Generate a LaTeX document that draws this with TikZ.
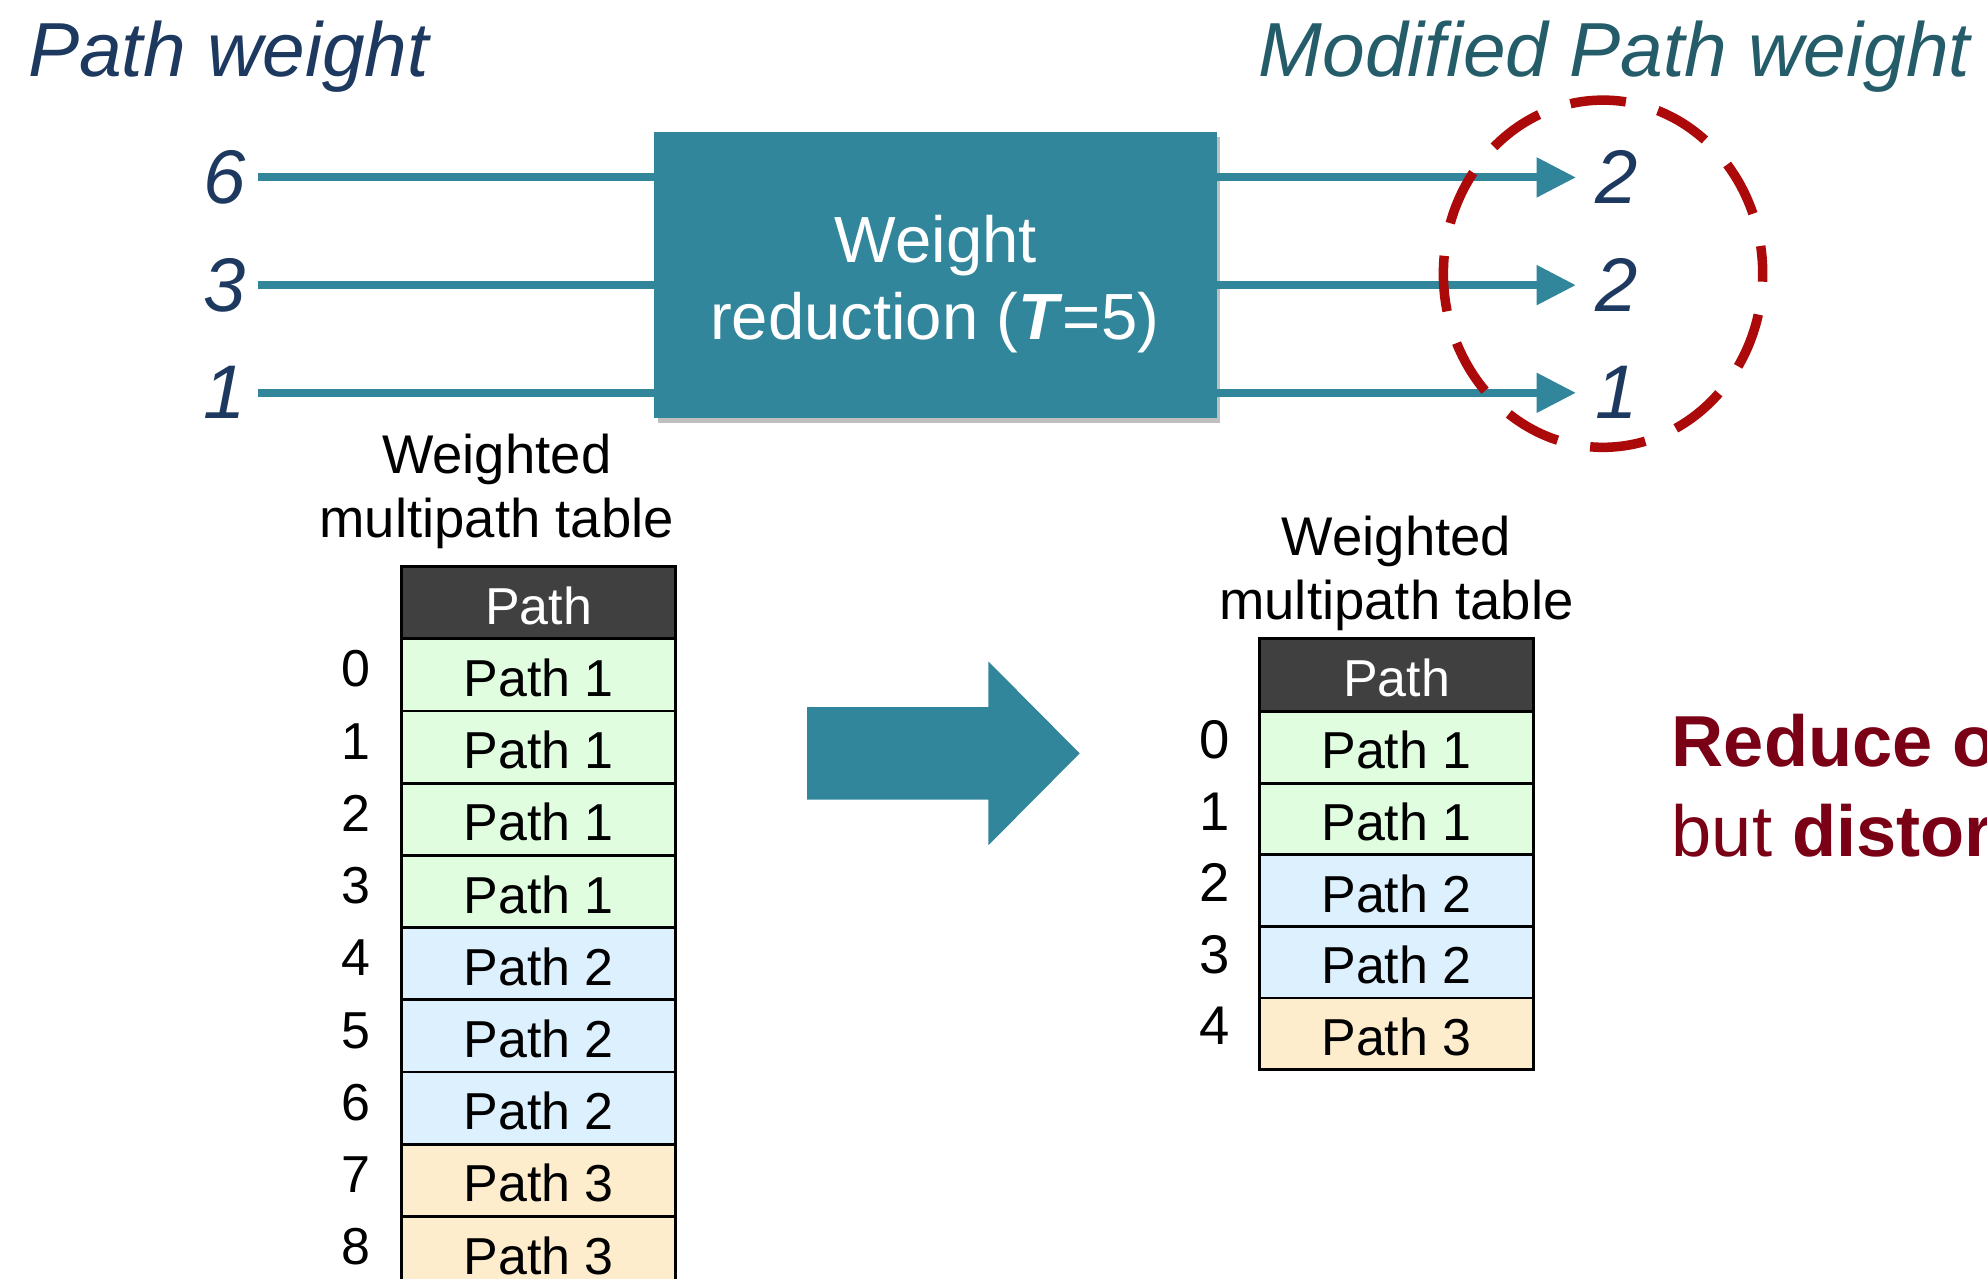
\documentclass[tikz,border=0pt]{standalone}
\usepackage{fontspec}
\setmainfont{Liberation Sans}
\usetikzlibrary{arrows.meta,shadows}

\definecolor{wteal}{RGB}{50,134,156}
\definecolor{wnavy}{RGB}{30,57,95}
\definecolor{mteal}{RGB}{36,92,106}
\definecolor{ringred}{RGB}{172,10,10}
\definecolor{notered}{RGB}{122,0,22}
\definecolor{hdrgray}{RGB}{64,64,64}
\definecolor{pgreen}{RGB}{224,253,224}
\definecolor{pblue}{RGB}{221,240,254}
\definecolor{ppeach}{RGB}{254,237,204}

\tikzset{
  title/.style={inner sep=0pt, font=\fontsize{60.5}{72}\selectfont\itshape},
  innum/.style={inner xsep=9pt, inner ysep=0pt, text=wnavy, font=\fontsize{60}{70}\selectfont\itshape},
  outnum/.style={inner xsep=15pt, inner ysep=0pt, text=wnavy, font=\fontsize{60}{70}\selectfont\itshape},
  wbox/.style={fill=wteal, minimum width=444pt, minimum height=226pt, inner sep=0pt,
    drop shadow={shadow xshift=3pt, shadow yshift=-4pt, fill=black, opacity=0.25}},
  wtext/.style={inner sep=0pt, text=white, font=\fontsize{51.5}{61}\selectfont},
  wline/.style={draw=wteal, line width=6.3pt},
  warrow/.style={wline, -{Triangle[length=31pt,width=30pt]}},
  redring/.style={draw=ringred, line width=7.5pt, dash pattern=on 44pt off 26.2pt, dash phase=22pt},
  tabcaption/.style={inner sep=0pt, font=\fontsize{43}{50}\selectfont},
  cell/.style={draw=black, line width=2.2pt, minimum width=216pt, minimum height=57pt,
    inner sep=0pt, text height=34pt, text depth=0pt, font=\fontsize{41}{48}\selectfont},
  hdrcell/.style={cell, fill=hdrgray, text=white},
  idx/.style={inner sep=0pt, anchor=base, font=\fontsize{41}{48}\selectfont},
  rednote/.style={inner sep=0pt, anchor=base west, text=notered, font=\fontsize{57}{68}\selectfont},
}

\begin{document}
\begin{tikzpicture}[x=1pt, y=-1pt]
\useasboundingbox (0,0) rectangle (1568,1009);
\clip (0,0) rectangle (1568,1009);

% headings
\node[title, text=wnavy, anchor=base west] (ttl) at (22,60) {Path weight};
\node[title, text=mteal, anchor=base east] (ttr) at (1555,60) {Modified Path weight};

% weight reduction block
\node[wbox] (wr) at (738,217) {};
\node[wtext, anchor=base] (wrl1) at (738.5,207) {Weight};
\node[wtext, anchor=base] (wrl2) at (737.5,268) {reduction (\textbf{\textit{T}}=5)};

% incoming weights
\foreach \v/\y/\n in {6/140/a, 3/225/b, 1/310/c} {
  \node[innum] (in\n) at (177.5,\y) {\v};
  \draw[wline] (in\n.east) -- (in\n -| wr.west);
}

% reduced weights
\foreach \v/\y/\n in {2/140/a, 2/225/b, 1/310/c} {
  \node[outnum] (out\n) at (1275.5,\y) {\v};
  \draw[warrow] (out\n -| wr.east) -- (out\n.west);
}

% highlight ring
\draw[redring] (1265,216) ellipse [x radius=126pt, y radius=137pt];

% transition arrow
\fill[wteal] (637,558) -- (780,558) -- (780,522) -- (852,594.5) -- (780,667)
  -- (780,631) -- (637,631) -- cycle;

% original table
\node[tabcaption, anchor=base] (lc1) at (392,374) {Weighted};
\node[tabcaption, anchor=base] (lc2) at (392,424.5) {multipath table};
\node[hdrcell] (LH) at (425,475.75) {Path};
\foreach \i/\c/\t in {0/pgreen/1, 1/pgreen/1, 2/pgreen/1, 3/pgreen/1,
                      4/pblue/2, 5/pblue/2, 6/pblue/2, 7/ppeach/3, 8/ppeach/3} {
  \node[cell, fill=\c] (L\i) at (425,{532.5+57*\i}) {Path \t};
  \node[idx] (LI\i) at (281,{542+57*\i}) {\i};
}

% reduced table
\node[tabcaption, anchor=base] (rc1) at (1102,438) {Weighted};
\node[tabcaption, anchor=base] (rc2) at (1102,489) {multipath table};
\node[hdrcell, minimum height=57.5pt] (RH) at (1102,532.75) {Path};
\foreach \i/\c/\t in {0/pgreen/1, 1/pgreen/1, 2/pblue/2, 3/pblue/2, 4/ppeach/3} {
  \node[cell, fill=\c, minimum height=56.5pt] (R\i) at (1102,{589.75+56.5*\i}) {Path \t};
  \node[idx, font=\fontsize{43}{50}\selectfont] (RI\i) at (958.5,{598.5+56.5*\i}) {\i};
}

% note
\node[rednote] (rn1) at (1319,605) {\textbf{Reduce o}};
\node[rednote] (rn2) at (1319,675.5) {but \textbf{distor}};
\end{tikzpicture}
\end{document}
